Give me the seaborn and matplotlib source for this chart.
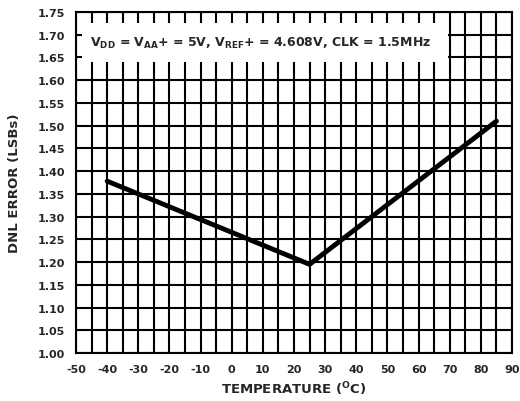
import matplotlib
matplotlib.use("Agg")
import matplotlib.pyplot as plt
import seaborn as sns
import pandas as pd
from matplotlib.patches import Rectangle

temperature = [-40, 25, 85]
dnl_error = [1.378, 1.195, 1.51]
x_ticks = list(range(-50, 91, 10))
y_ticks = [round(1.00 + 0.05 * i, 2) for i in range(16)]

sns.set_theme(style="white")
plt.rcParams['font.family'] = ['DejaVu Sans']
plt.rcParams['font.weight'] = 'bold'
plt.rcParams['mathtext.fontset'] = 'dejavusans'

fig = plt.figure(figsize=(5.2, 4.02), dpi=100)
ax = fig.add_axes([76/520, 1-354/402, (512-76)/520, (354-13)/402])

df = pd.DataFrame({"T": temperature, "E": dnl_error})

ax.set_xlim(-50, 90)
ax.set_ylim(1.00, 1.75)
ax.set_xticks(x_ticks)
ax.set_xticks(list(range(-45, 90, 10)), minor=True)
ax.set_yticks(y_ticks)
ax.set_xticklabels([str(v) for v in x_ticks], fontsize=8, fontweight='bold')
ax.set_yticklabels([f"{v:.2f}" for v in y_ticks], fontsize=8, fontweight='bold')
ax.grid(True, which='both', axis='x', color='black', linewidth=1.5)
ax.grid(True, which='major', axis='y', color='black', linewidth=1.5)
ax.tick_params(which='both', length=0, pad=8)
for s in ax.spines.values():
    s.set_color('black')
    s.set_linewidth(1.5)

ax.add_patch(Rectangle((-48, 1.640), 117.5, 0.085, facecolor='white',
                       edgecolor='none', zorder=2.5))

sns.lineplot(data=df, x="T", y="E", ax=ax, color='black', linewidth=3.5,
             zorder=4, legend=False)

ax.text(-45.5, 1.684,
        r"$\mathbf{V}_{\mathbf{DD}}$ = $\mathbf{V}_{\mathbf{AA}}$+ = 5V, $\mathbf{V}_{\mathbf{REF}}$+ = 4.608V, CLK = 1.5MHz",
        fontsize=9, fontweight='bold', va='center', ha='left', zorder=5)

ax.set_xlabel(r"TEMPERATURE ($^{\mathbf{O}}$C)", fontsize=9.5, fontweight='bold', labelpad=4)
ax.set_ylabel("DNL ERROR (LSBs)", fontsize=9.5, fontweight='bold')
ax.yaxis.set_label_coords(-55/436, 0.5)

fig.savefig("out.png", dpi=100)
